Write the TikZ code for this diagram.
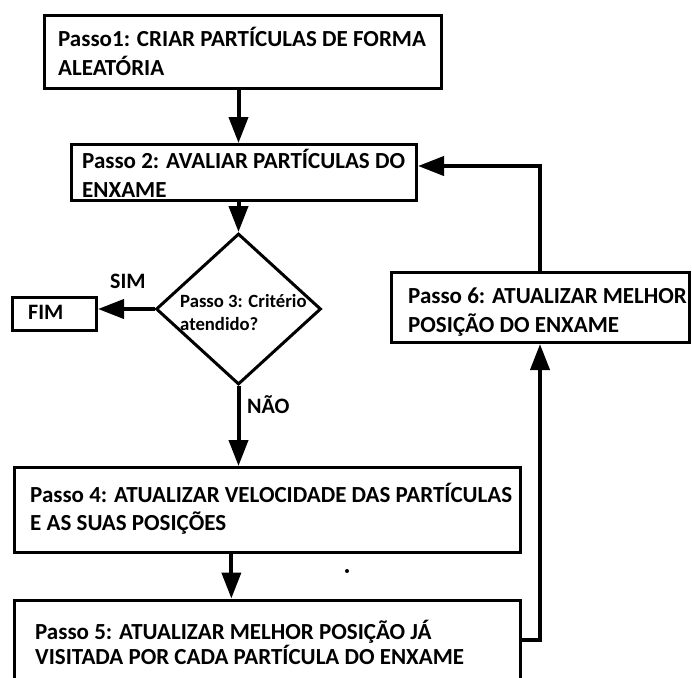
\documentclass[tikz,border=0pt]{standalone}
\usepackage{fontspec}
\setmainfont{Carlito}
\usetikzlibrary{arrows.meta,shapes.geometric,calc}
\tikzset{
  box/.style={draw=black,line width=3pt,rectangle,inner sep=0pt},
  lbl/.style={anchor=base west,align=left,inner sep=0pt,font=\bfseries\fontsize{23}{29}\selectfont},
  small/.style={anchor=base west,align=left,inner sep=0pt,font=\bfseries\fontsize{18.7}{23}\selectfont},
  tag/.style={anchor=base west,inner sep=0pt,font=\bfseries\fontsize{22}{26}\selectfont},
  conn/.style={line width=4pt},
  arr/.style={conn,-{Triangle[length=26pt,width=19pt]}},
}
\begin{document}
\begin{tikzpicture}[x=1pt,y=-1pt]
\useasboundingbox (0,0) rectangle (692,677);
\clip (0,0) rectangle (692,677);
\fill[white] (0,0) rectangle (692,677);
% boxes
\node[box,minimum width=397pt,minimum height=73pt] (b1) at (243,52) {};
\node[box,minimum width=345pt,minimum height=56pt] (b2) at (244,172.5) {};
\node[draw=black,line width=3pt,diamond,inner sep=0pt,minimum width=165pt,minimum height=151pt] (dia) at (238.5,309) {};
\node[box,minimum width=84pt,minimum height=33pt] (fim) at (54.5,314) {};
\node[box,minimum width=506pt,minimum height=85pt] (b4) at (267.5,510) {};
\node[box,minimum width=506pt,minimum height=80pt] (b5) at (267.5,640) {};
\node[box,minimum width=298pt,minimum height=70pt] (b6) at (540,307.5) {};
% labels (base anchor = baseline of last line)
\node[lbl] (t1) at (58,75) {Passo1: CRIAR PARTÍCULAS DE FORMA\\ALEATÓRIA};
\node[lbl] (t2) at (82,197) {Passo 2: AVALIAR PARTÍCULAS DO\\ENXAME};
\node[small] (t3) at (180,330) {Passo 3: Critério\\atendido?};
\node[tag] (tf) at (28,319) {FIM};
\node[tag] (ts) at (110,288) {SIM};
\node[tag] (tn) at (247,413) {NÃO};
\node[lbl,font=\bfseries\fontsize{23}{28}\selectfont] (t4) at (30,530) {Passo 4: ATUALIZAR VELOCIDADE DAS PARTÍCULAS\\E AS SUAS POSIÇÕES};
\node[lbl,font=\bfseries\fontsize{23}{25}\selectfont] (t5) at (35,664) {Passo 5: ATUALIZAR MELHOR POSIÇÃO JÁ\\VISITADA POR CADA PARTÍCULA DO ENXAME};
\node[lbl] (t6) at (408,332) {Passo 6: ATUALIZAR MELHOR\\POSIÇÃO DO ENXAME};
% connectors
\coordinate (loopy) at (0,166);
\draw[arr] (b1.south -| dia.north) -- (b2.north -| dia.north);
\draw[arr] (b2.south -| dia.north) -- (dia.north);
\draw[arr] (dia.south) -- (b4.north -| dia.south);
\draw[arr] (dia.west) -- (dia.west -| fim.east);
\draw[arr] ($(b4.south west)!0.429!(b4.south east)$) -- ($(b5.north west)!0.429!(b5.north east)$);
\draw[arr] (b5.east) -| (b6.south);
\draw[arr] (b6.north) |- (b2.east |- loopy);
\fill (347,571) circle (2pt);
\end{tikzpicture}
\end{document}
